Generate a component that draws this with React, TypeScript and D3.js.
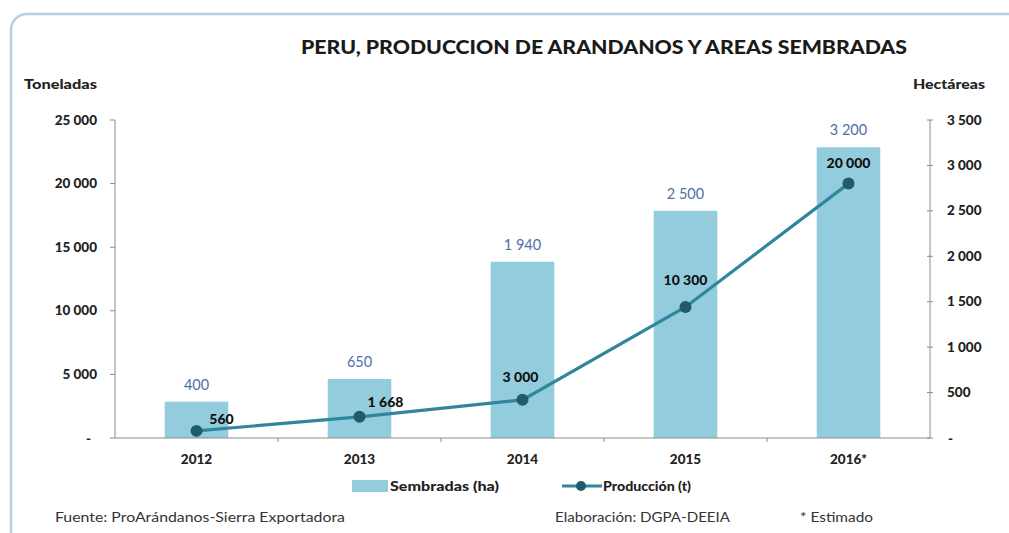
import React from 'react';
import * as d3 from 'd3';

const years = ['2012', '2013', '2014', '2015', '2016*'];
const sembradas = [400, 650, 1940, 2500, 3200];
const produccion = [560, 1668, 3000, 10300, 20000];
const leftTicks = [0, 5000, 10000, 15000, 20000, 25000];
const rightTicks = [0, 500, 1000, 1500, 2000, 2500, 3000, 3500];

const title = 'PERU, PRODUCCION DE ARANDANOS  Y AREAS SEMBRADAS';
const leftTitle = 'Toneladas';
const rightTitle = 'Hectáreas';
const legendBar = 'Sembradas (ha)';
const legendLine = 'Producción (t)';
const footerSource = 'Fuente: ProArándanos-Sierra Exportadora';
const footerElab = 'Elaboración: DGPA-DEEIA';
const footerNote = '* Estimado';

// label placement offsets for the production labels (style only)
const prodLabelDx = [25, 26, -2, 0, 0];
const prodLabelDy = [-12, -15, -23, -27, -21];

const FONT = 'Lato, "Open Sans", sans-serif';
const BAR = '#93cddd';
const LINE = '#31859c';
const MARK = '#1f5b6b';

const locale = d3.formatLocale({ decimal: ',', thousands: ' ', grouping: [3], currency: ['', ''] });
const fmt = (v: number) => (v === 0 ? '-' : locale.format(',d')(v));

export default function App() {
  const W = 1009, H = 533;
  const x0 = 115, x1 = 930, yTop = 120, yBot = 438;

  const x = d3.scaleBand<string>().domain(years).range([x0, x1]).paddingInner(0).paddingOuter(0);
  const yL = d3.scaleLinear().domain([0, 25000]).range([yBot, yTop]);
  const yR = d3.scaleLinear().domain([0, 3500]).range([yBot, yTop]);
  const barW = x.bandwidth() * 0.39;
  const cx = (y: string) => (x(y) as number) + x.bandwidth() / 2;

  const line = d3.line<number>()
    .x((_, i) => cx(years[i]))
    .y((d) => yL(d));

  const boundaries = years.map((y) => x(y) as number).slice(1);

  return (
    <svg width={W} height={H} style={{ position: 'absolute', left: 0, top: 0, background: '#fff' }}
      fontFamily={FONT}>
      <rect x={11} y={14} width={1030} height={560} rx={16} fill="#fff" stroke="#b9cde6" strokeWidth={2.5} />

      <text x={604} y={54} textAnchor="middle" fontWeight={900} fontSize={18} fill="#1a1a1a"
        textLength={606} lengthAdjust="spacingAndGlyphs">{title}</text>

      <text x={24} y={89} fontWeight={900} fontSize={12.5} fill="#222" textLength={73} lengthAdjust="spacingAndGlyphs">{leftTitle}</text>
      <text x={913} y={89} fontWeight={900} fontSize={12.5} fill="#222" textLength={72} lengthAdjust="spacingAndGlyphs">{rightTitle}</text>

      {/* bars */}
      {sembradas.map((v, i) => (
        <rect key={'b' + i} x={cx(years[i]) - barW / 2} y={yR(v)} width={barW} height={yBot - yR(v)} fill={BAR} />
      ))}
      {sembradas.map((v, i) => (
        <text key={'bl' + i} x={cx(years[i])} y={yR(v) - 12} textAnchor="middle" fontSize={14.5} fill="#4f6eaa">{fmt(v)}</text>
      ))}

      {/* left axis */}
      <line x1={x0} x2={x0} y1={yTop} y2={yBot} stroke="#8c8c8c" strokeWidth={1} />
      {leftTicks.map((t) => (
        <g key={'lt' + t}>
          <line x1={x0 - 5} x2={x0} y1={yL(t)} y2={yL(t)} stroke="#8c8c8c" />
          <text x={t === 0 ? 91 : 97} y={yL(t) + 4.5} textAnchor="end" fontWeight={900} fontSize={13.5} fill="#222">{fmt(t)}</text>
        </g>
      ))}

      {/* right axis */}
      <line x1={x1} x2={x1} y1={yTop} y2={yBot} stroke="#8c8c8c" strokeWidth={1} />
      {rightTicks.map((t) => (
        <g key={'rt' + t}>
          <line x1={x1 - 3} x2={x1 + 3} y1={yR(t)} y2={yR(t)} stroke="#8c8c8c" />
          <text x={t === 0 ? 948 : 947} y={yR(t) + 4.5} fontWeight={900} fontSize={13.5} fill="#222">{fmt(t)}</text>
        </g>
      ))}

      {/* x axis */}
      <line x1={x0} x2={x1} y1={yBot} y2={yBot} stroke="#8c8c8c" strokeWidth={1} />
      {boundaries.map((b, i) => (
        <line key={'xt' + i} x1={b} x2={b} y1={yBot} y2={yBot + 4} stroke="#8c8c8c" />
      ))}
      {years.map((y) => (
        <text key={'xl' + y} x={cx(y)} y={464} textAnchor="middle" fontWeight={900} fontSize={13.5} fill="#222">{y}</text>
      ))}

      {/* production line */}
      <path d={line(produccion) as string} fill="none" stroke={LINE} strokeWidth={3.2} />
      {produccion.map((v, i) => (
        <circle key={'m' + i} cx={cx(years[i])} cy={yL(v)} r={6} fill={MARK} />
      ))}
      {produccion.map((v, i) => (
        <text key={'pl' + i} x={cx(years[i]) + prodLabelDx[i]} y={yL(v) + prodLabelDy[i] + 5}
          textAnchor="middle" fontWeight={900} fontSize={14} fill="#111">{fmt(v)}</text>
      ))}

      {/* legend */}
      <rect x={352} y={480} width={36} height={12} fill={BAR} />
      <text x={390} y={491} fontWeight={900} fontSize={13} fill="#222" textLength={109} lengthAdjust="spacingAndGlyphs">{legendBar}</text>
      <line x1={562} x2={602} y1={486} y2={486} stroke={LINE} strokeWidth={3.2} />
      <circle cx={581} cy={486} r={5} fill={MARK} />
      <text x={603} y={491} fontWeight={900} fontSize={13} fill="#222" textLength={88} lengthAdjust="spacingAndGlyphs">{legendLine}</text>

      {/* footer */}
      <text x={55} y={522} fontSize={13} fill="#333" textLength={290} lengthAdjust="spacingAndGlyphs">{footerSource}</text>
      <text x={555} y={522} fontSize={13} fill="#333" textLength={175} lengthAdjust="spacingAndGlyphs">{footerElab}</text>
      <text x={800} y={522} fontSize={13} fill="#333" textLength={73} lengthAdjust="spacingAndGlyphs">{footerNote}</text>
    </svg>
  );
}
